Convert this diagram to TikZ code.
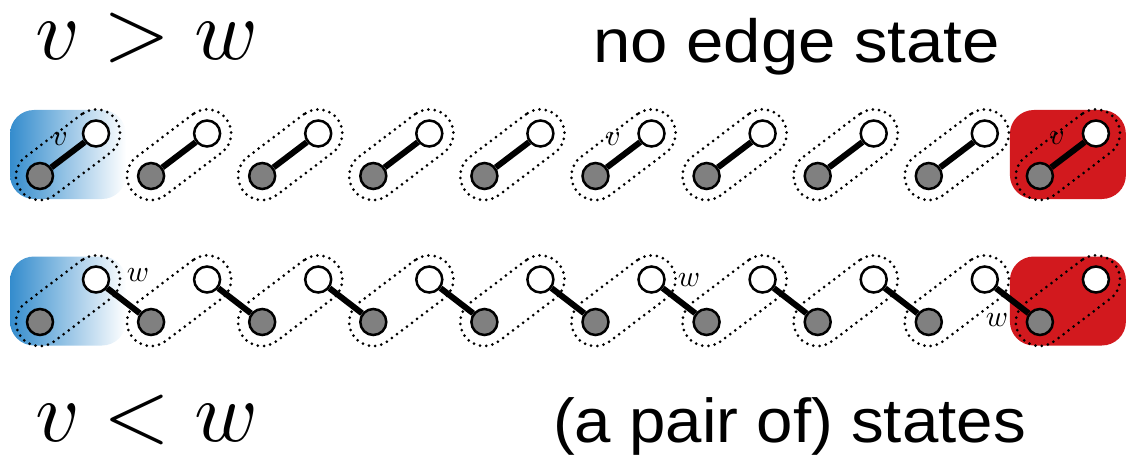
\documentclass[tikz,border=0pt]{standalone}
\usepackage{graphicx}
\usepackage{fontspec}
\newfontfamily\hv{Liberation Sans}
\usetikzlibrary{calc}
\definecolor{stateblue}{RGB}{52,140,205}
\definecolor{statered}{RGB}{210,25,30}
\definecolor{vgray}{RGB}{128,128,128}
\newcommand{\titlemath}[1]{\scalebox{8.6}{$#1$}}
\newcommand{\labelmath}[1]{\scalebox{3}{$#1$}}
\tikzset{
  vtx/.style={circle, draw=black, line width=2.5pt, minimum size=26pt, inner sep=0pt},
  lowv/.style={vtx, fill=vgray},
  highv/.style={vtx, fill=white},
  edgeline/.style={line width=6pt, black},
  pairhull/.style={rectangle, draw=black, line width=3pt, dash pattern=on 0pt off 6.3pt,
    line cap=round, rounded corners=24pt, minimum height=48pt, minimum width=118.6pt,
    rotate=37.2, inner sep=0pt},
  statebox/.style={rectangle, rounded corners=24pt, minimum width=116pt,
    minimum height=89pt, inner sep=0pt},
  bigmath/.style={anchor=base west, inner sep=0pt},
  bigtext/.style={anchor=base west, inner sep=0pt},
  vlabel/.style={inner sep=0pt},
}
\begin{document}
\begin{tikzpicture}[x=1pt,y=1pt]
\useasboundingbox (0,0) rectangle (1126,456);

% coloured end states
\node[statebox, left color=stateblue, right color=white] (tstart) at (68,301.5) {};
\node[statebox, fill=statered] (tend) at (1067.9,301.5) {};
\node[statebox, left color=stateblue, right color=white] (bstart) at (68,155) {};
\node[statebox, fill=statered] (bend) at (1067.9,155) {};

% vertices: lower-left grey, upper-right white
\foreach \i in {0,...,9} {
  \pgfmathsetmacro\gx{40+111.1*\i}
  \pgfmathsetmacro\wx{96+111.1*\i}
  \node[lowv]  (tg\i) at (\gx,280) {};
  \node[highv] (tw\i) at (\wx,322.5) {};
  \node[lowv]  (bg\i) at (\gx,134) {};
  \node[highv] (bw\i) at (\wx,176.5) {};
  \node[pairhull] (th\i) at ($(tg\i)!0.5!(tw\i)$) {};
  \node[pairhull] (bh\i) at ($(bg\i)!0.5!(bw\i)$) {};
}

% edges
\foreach \i in {0,...,9} {
  \draw[edgeline] (tg\i) -- (tw\i);
}
\foreach \i [evaluate=\i as \j using int(\i+1)] in {0,...,8} {
  \draw[edgeline] (bw\i) -- (bg\j);
}

% vertex labels
\node[vlabel] (v0) at (60,317) {\labelmath{v}};
\node[vlabel] (v5) at (613,317) {\labelmath{v}};
\node[vlabel] (v9) at (1057,318) {\labelmath{v}};
\node[vlabel] (w0) at (138,181) {\labelmath{w}};
\node[vlabel] (w5) at (689,176) {\labelmath{w}};
\node[vlabel] (w9) at (997,136) {\labelmath{w}};

% titles
\node[bigmath] (ordtop) at (35,396) {\titlemath{v > w}};
\node[bigmath] (ordbot) at (35,15) {\titlemath{v < w}};
\node[bigtext] (ttop) at (593,393)
  {\scalebox{1.1}[1]{\hv\fontsize{61}{61}\selectfont no edge state}};
\node[bigtext] (tbot) at (553,14)
  {\scalebox{1.055}[1]{\hv\fontsize{62}{62}\selectfont (a pair of) states}};
\end{tikzpicture}
\end{document}
